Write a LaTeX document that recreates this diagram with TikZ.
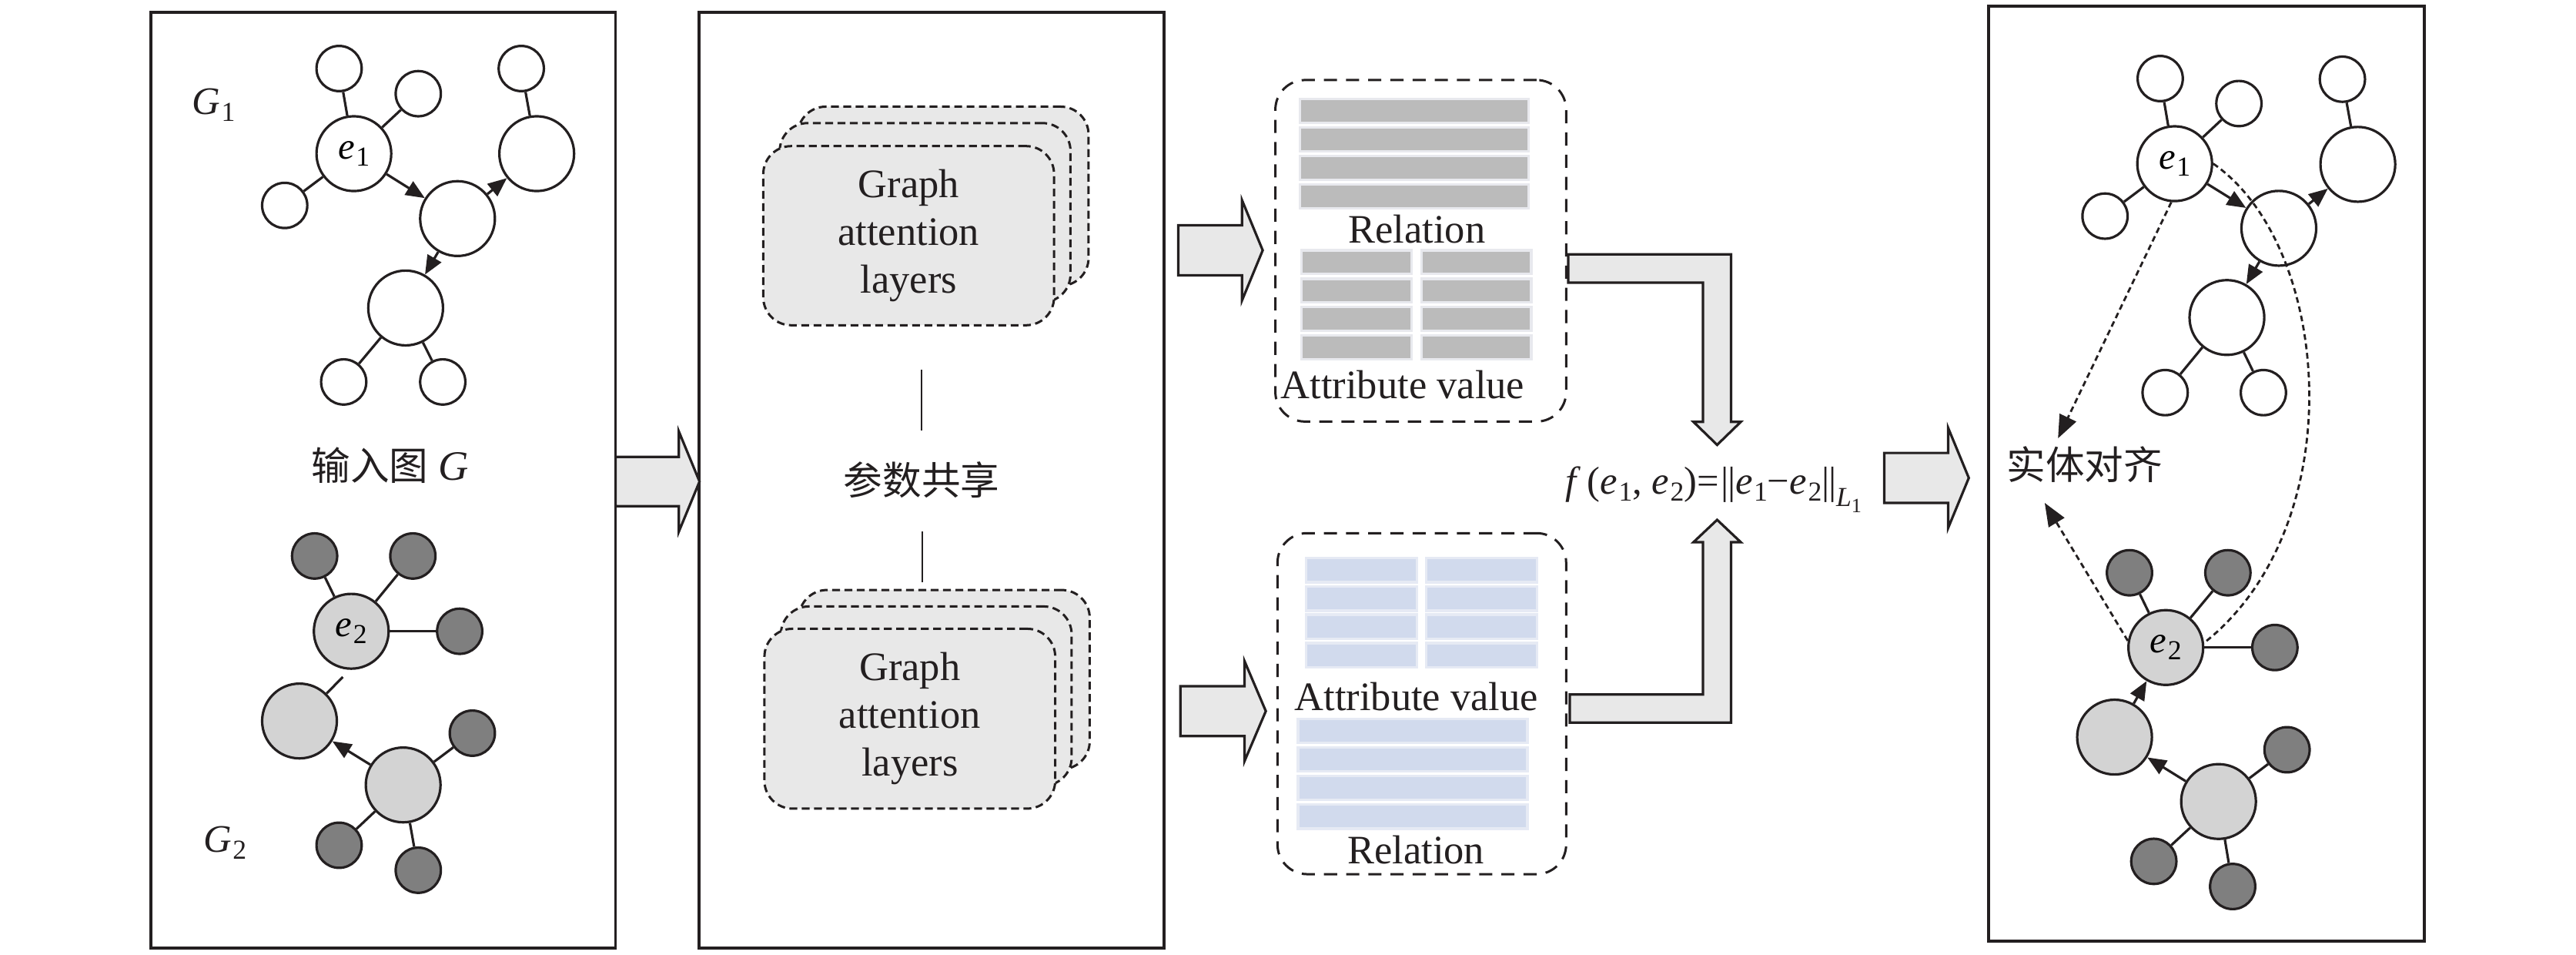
\documentclass[tikz,border=0pt]{standalone}
\usepackage{fontspec}
\setmainfont{Liberation Serif}
\newfontfamily\cjk{Noto Sans CJK SC}
\usetikzlibrary{arrows.meta,fit,calc}
\definecolor{ink}{HTML}{231F20}
\definecolor{gatfill}{HTML}{E8E8E8}
\definecolor{blkfill}{HTML}{E8E8E8}
\definecolor{ltgray}{HTML}{D3D3D3}
\definecolor{dkgray}{HTML}{7F7F7F}
\definecolor{gbarfill}{HTML}{BBBBBB}
\definecolor{gbarline}{HTML}{E8E9EE}
\definecolor{bbarfill}{HTML}{D1DAED}
\definecolor{bbarline}{HTML}{E6EAF4}
\newcommand{\esub}[2]{\textit{#1}\kern0.03em\raisebox{-0.4ex}{\fontsize{9.5}{9.5}\selectfont #2}}
\begin{document}
\begin{tikzpicture}[x=0.2mm,y=-0.2mm,
  panel/.style={draw=ink, line width=1pt, inner sep=0pt, outer sep=0pt},
  gatbox/.style={draw=ink, dash pattern=on 0.95mm off 0.55mm, line width=0.8pt, fill=gatfill, rounded corners=3.4mm, inner sep=0pt, outer sep=0pt},
  relbox/.style={draw=ink, dash pattern=on 1.6mm off 1.1mm, line width=0.8pt, rounded corners=3.6mm, inner sep=0pt, outer sep=0pt},
  sm/.style={circle, draw=ink, line width=0.85pt, fill=white, minimum size=5.5mm, inner sep=0pt},
  bg/.style={sm, minimum size=9.1mm},
  dk/.style={fill=dkgray},
  lt/.style={fill=ltgray},
  edge/.style={draw=ink, line width=0.85pt},
  arr/.style={edge, -{Triangle[length=2.3mm,width=1.9mm]}},
  dasharr/.style={draw=ink, line width=0.75pt, dash pattern=on 0.7mm off 0.45mm, -{Triangle[length=2.8mm,width=2.2mm]}},
  dashcurve/.style={draw=ink, line width=0.75pt, dash pattern=on 0.7mm off 0.45mm},
  blk/.style={draw=ink, fill=blkfill, line width=0.85pt, line join=miter},
  lbl/.style={font=\fontsize{14}{16.5}\selectfont, inner sep=0pt, align=center, text=ink},
  cjklbl/.style={font=\cjk\fontsize{13.5}{13.5}\selectfont, inner sep=0pt, text=ink},
  gbar/.style={fill=gbarfill, draw=gbarline, line width=0.3mm},
  bbar/.style={fill=bbarfill, draw=bbarline, line width=0.3mm},
  thinline/.style={draw=ink, line width=0.6pt}
]
\useasboundingbox (0,0) rectangle (1568,581);

% ---------- panels ----------
\node[panel, fit={(92,7.5) (374.7,576.7)}] (p1) {};
\node[panel, fit={(425.5,7.5) (708.4,576.7)}] (p2) {};
\node[panel, fit={(1210.6,3.7) (1475.8,572.8)}] (p4) {};

% ---------- panel 1: graph G1 ----------
\node[sm] (TL1) at (206.4,41.7) {};
\node[sm] (S21) at (254.6,57.0) {};
\node[bg] (E1) at (215.4,93.5) {\fontsize{13}{13}\selectfont\esub{e}{1}};
\node[sm] (LS1) at (173.3,125.0) {};
\node[bg] (RM1) at (278.5,133.0) {};
\node[sm] (TR1) at (317.3,41.7) {};
\node[bg] (RB1) at (326.7,93.5) {};
\node[bg] (BM1) at (246.9,187.4) {};
\node[sm] (BL1) at (209.2,232.4) {};
\node[sm] (BR1) at (269.5,232.4) {};
\draw[edge] (E1) -- (TL1);
\draw[edge] (E1) -- (S21);
\draw[edge] (E1) -- (LS1);
\draw[edge] (RB1) -- (TR1);
\draw[edge] (BM1) -- (BL1);
\draw[edge] (BM1) -- (BR1);
\draw[arr] (E1) -- (RM1);
\draw[arr] (RM1) -- (RB1);
\draw[arr] (RM1) -- (BM1);
\node[inner sep=0pt, text=ink] (G1lab) at (130,64) {\fontsize{13.5}{13.5}\selectfont\esub{G}{1}};
\node[cjklbl] (inlab) at (237.4,283) {输入图\kern0.25em{\rmfamily\itshape\fontsize{14.5}{14.5}\selectfont G}};

% ---------- panel 1: graph G2 ----------
\node[sm, dk] (dTL) at (191.5,338.3) {};
\node[sm, dk] (dTR) at (251.3,338.3) {};
\node[bg, lt] (E2) at (213.8,384.1) {\fontsize{13}{13}\selectfont\esub{e}{2}};
\node[sm, dk] (dR) at (279.8,384.1) {};
\node[bg, lt] (LL) at (182.3,438.7) {};
\node[bg, lt] (LW) at (245.4,477.6) {};
\node[sm, dk] (dR2) at (287.5,446.1) {};
\node[sm, dk] (dBL) at (206.4,514.3) {};
\node[sm, dk] (dB) at (254.6,529.5) {};
\coordinate (gapend) at (208.7,411.9);
\draw[edge] (E2) -- (dTL);
\draw[edge] (E2) -- (dTR);
\draw[edge] (E2) -- (dR);
\draw[edge] (LL) -- (gapend);
\draw[arr] (LW) -- (LL);
\draw[edge] (LW) -- (dR2);
\draw[edge] (LW) -- (dBL);
\draw[edge] (LW) -- (dB);
\node[inner sep=0pt, text=ink] (G2lab) at (136.9,512.8) {\fontsize{13.5}{13.5}\selectfont\esub{G}{2}};

% ---------- arrow 1 ----------
\draw[blk] (374.7,278) -- (413.2,278) -- (413.2,262.5) -- (425.8,293) -- (413.2,323.5) -- (413.2,308) -- (374.7,308) -- cycle;

% ---------- panel 2: GAT stacks ----------
\node[gatbox, fit={(485.6,64.9) (662.6,173.9)}] (gatAback) {};
\node[gatbox, fit={(474.6,74.9) (651.6,183.9)}] (gatAmid) {};
\node[gatbox, fit={(464.6,88.9) (641.6,197.9)}] (gatA) {};
\node[lbl] at (gatA.center) {Graph\\attention\\layers};

\node[gatbox, fit={(486.3,359) (663.3,468)}] (gatBback) {};
\node[gatbox, fit={(475.3,369) (652.3,478)}] (gatBmid) {};
\node[gatbox, fit={(465.3,382.6) (642.3,492)}] (gatB) {};
\node[lbl] at (gatB.center) {Graph\\attention\\layers};

\node[cjklbl] (share) at (561,292) {参数共享};
\coordinate (sl1a) at (561,225);
\coordinate (sl1b) at (561,262);
\coordinate (sl2a) at (561.5,323.5);
\coordinate (sl2b) at (561.5,354.4);
\draw[thinline] (sl1a) -- (sl1b);
\draw[thinline] (sl2a) -- (sl2b);

% ---------- arrows 2 and 3 ----------
\draw[blk] (717.2,137.1) -- (756,137.1) -- (756,121.8) -- (768.6,152.3) -- (756,182.8) -- (756,167.5) -- (717.2,167.5) -- cycle;
\draw[blk] (718.5,417.5) -- (757.5,417.5) -- (757.5,402.2) -- (770.5,432.7) -- (757.5,463.2) -- (757.5,447.9) -- (718.5,447.9) -- cycle;

% ---------- top feature box ----------
\node[relbox, fit={(776.3,48.7) (953.3,256.5)}] (relA) {};
\foreach \y in {60.1,77.45,94.8,112.15}
  \draw[gbar] (791.4,\y) rectangle (930.6,\y+14.6);
\foreach \y in {152.3,169.6,186.9,204.2}
  {\draw[gbar] (792.3,\y) rectangle (859.1,\y+14.4);
   \draw[gbar] (865.4,\y) rectangle (932.1,\y+14.4);}
\node[lbl] at (862.4,139.3) {Relation};
\node[lbl] at (853.8,234) {Attribute value};

% ---------- bottom feature box ----------
\node[relbox, fit={(777.6,324.4) (953.3,531.9)}] (relB) {};
\foreach \y in {339.4,356.7,374.0,391.3}
  {\draw[bbar] (795.1,\y) rectangle (862.4,\y+14.9);
   \draw[bbar] (868.1,\y) rectangle (935.4,\y+14.9);}
\foreach \y in {437.4,454.8,472.2,489.6}
  \draw[bbar] (790.1,\y) rectangle (929.7,\y+14.6);
\node[lbl] at (862.2,424.1) {Attribute value};
\node[lbl] at (861.9,517) {Relation};

% ---------- L arrows ----------
\draw[blk] (954.6,154.8) -- (1053.7,154.8) -- (1053.7,256.7) -- (1059.6,256.7) -- (1045.2,270.7) -- (1030.8,256.7) -- (1036.6,256.7) -- (1036.6,172) -- (954.6,172) -- cycle;
\draw[blk] (955.5,439.7) -- (1053.7,439.7) -- (1053.7,329.9) -- (1059.6,329.9) -- (1045.2,316.3) -- (1030.8,329.9) -- (1036.6,329.9) -- (1036.6,422.6) -- (955.5,422.6) -- cycle;

% ---------- formula ----------
\node[anchor=base, inner sep=0pt, text=ink] (formula) at (1043,300.6) {\fontsize{13.5}{13.5}\selectfont\textit{f}\,(\esub{e}{1}, \esub{e}{2})=\kern0.05em|\kern-0.03em|\esub{e}{1}−\esub{e}{2}|\kern-0.03em|\raisebox{-0.7ex}{\fontsize{9.5}{9.5}\selectfont\textit{L}\raisebox{-0.45ex}{\fontsize{7}{7}\selectfont 1}}};

% ---------- arrow 4 ----------
\draw[blk] (1146.9,275.6) -- (1185.8,275.6) -- (1185.8,260.3) -- (1198.4,290.8) -- (1185.8,321.3) -- (1185.8,306) -- (1146.9,306) -- cycle;

% ---------- panel 4: aligned graphs ----------
\node[sm] (TLr) at (1314.9,47.8) {};
\node[sm] (S2r) at (1362.8,63) {};
\node[bg] (E1r) at (1323.7,99.6) {\fontsize{13}{13}\selectfont\esub{e}{1}};
\node[sm] (LSr) at (1281.3,131.5) {};
\node[bg] (RMr) at (1387.1,138.9) {};
\node[sm] (TRr) at (1425.8,48.2) {};
\node[bg] (RBr) at (1435.2,100) {};
\node[bg] (BMr) at (1355.5,193.2) {};
\node[sm] (BLr) at (1317.9,238.9) {};
\node[sm] (BRr) at (1377.7,238.9) {};
\draw[edge] (E1r) -- (TLr);
\draw[edge] (E1r) -- (S2r);
\draw[edge] (E1r) -- (LSr);
\draw[edge] (RBr) -- (TRr);
\draw[edge] (BMr) -- (BLr);
\draw[edge] (BMr) -- (BRr);
\draw[arr] (E1r) -- (RMr);
\draw[arr] (RMr) -- (RBr);
\draw[arr] (RMr) -- (BMr);

\node[sm, dk] (dTLr) at (1296.2,348.5) {};
\node[sm, dk] (dTRr) at (1356.1,348.5) {};
\node[bg, lt] (E2r) at (1318.3,394) {\fontsize{13}{13}\selectfont\esub{e}{2}};
\node[sm, dk] (dRr) at (1384.7,394) {};
\node[bg, lt] (LLr) at (1287.1,448.5) {};
\node[bg, lt] (LWr) at (1350.4,487.7) {};
\node[sm, dk] (dR2r) at (1392.1,456.2) {};
\node[sm, dk] (dBLr) at (1311,524.1) {};
\node[sm, dk] (dBr) at (1359,539.4) {};
\draw[edge] (E2r) -- (dTLr);
\draw[edge] (E2r) -- (dTRr);
\draw[edge] (E2r) -- (dRr);
\draw[arr] (LWr) -- (LLr);
\draw[arr] (LLr) -- (E2r);
\draw[edge] (LWr) -- (dR2r);
\draw[edge] (LWr) -- (dBLr);
\draw[edge] (LWr) -- (dBr);

\node[cjklbl] (align) at (1269,282.6) {实体对齐};
\coordinate (t1) at (1252.7,266.7);
\coordinate (t2) at (1244.6,306);
\draw[dasharr] (E1r.265) -- (t1);
\draw[dasharr] (E2r.170) -- (t2);
\draw[dashcurve] (E1r.east) .. controls (1420,150) and (1432,320) .. (E2r.7);
\end{tikzpicture}
\end{document}
